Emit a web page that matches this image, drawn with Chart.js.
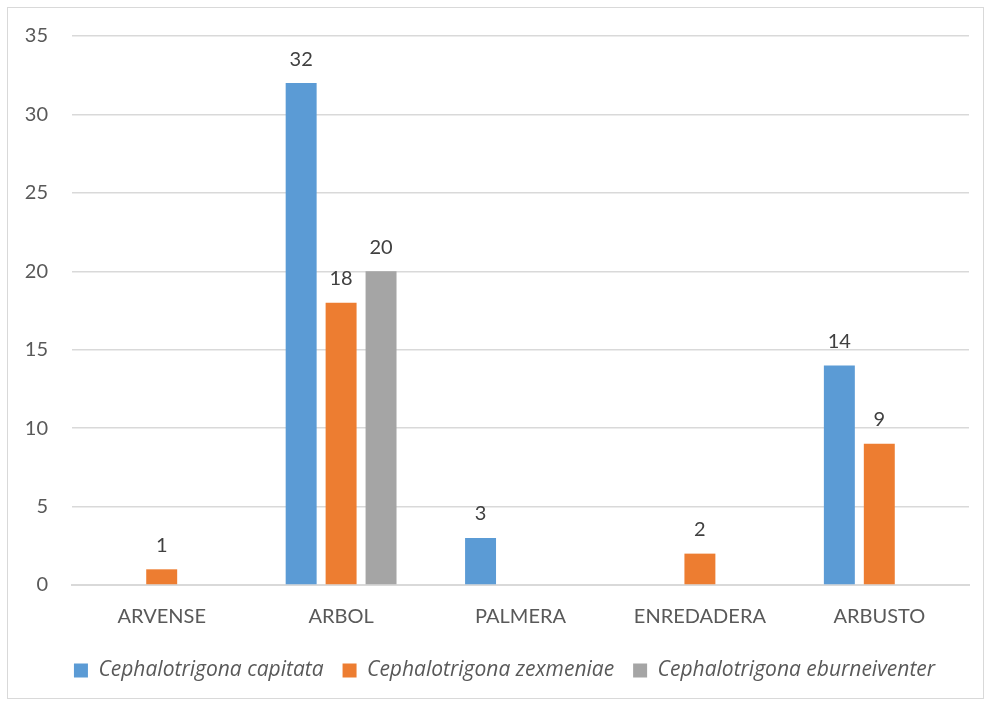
<!DOCTYPE html>
<html>
<head>
<meta charset="utf-8">
<script src="https://cdn.jsdelivr.net/npm/chart.js@4/dist/chart.umd.min.js"></script>
<style>
  html, body { margin: 0; padding: 0; background: #fff; }
  #frame {
    position: absolute; left: 7px; top: 7px;
    width: 977px; height: 692px;
    border: 1px solid #d9d9d9; box-sizing: border-box;
  }
  #frame canvas { display: block; }
</style>
</head>
<body>
<div id="frame"><canvas id="chart" width="975" height="690"></canvas></div>
<script>
// Categorías y conteos por especie
const categorias = ['ARVENSE', 'ARBOL', 'PALMERA', 'ENREDADERA', 'ARBUSTO'];
const capitata = [0, 32, 3, 0, 14];
const zexmeniae = [1, 18, 0, 2, 9];
const eburneiventer = [0, 20, 0, 0, 0];
const ticksY = [0, 5, 10, 15, 20, 25, 30, 35];

const fuente = 'Lato, "Open Sans", sans-serif';

// Etiquetas de valor encima de cada barra (solo valores distintos de cero)
const etiquetasValor = {
    id: 'etiquetasValor',
    afterDatasetsDraw(chart) {
        const ctx = chart.ctx;
        ctx.save();
        ctx.font = '20px ' + fuente;
        ctx.fillStyle = '#404040';
        ctx.textAlign = 'center';
        ctx.textBaseline = 'bottom';
        chart.data.datasets.forEach(function(ds, i) {
            const meta = chart.getDatasetMeta(i);
            meta.data.forEach(function(bar, j) {
                const v = ds.data[j];
                if (!v) return;
                ctx.fillText(String(v), bar.x, bar.y - 14);
            });
        });
        ctx.restore();
    }
};

// Desplaza un poco la leyenda hacia la derecha
const moverLeyenda = {
    id: 'moverLeyenda',
    afterLayout(chart) {
        const lg = chart.legend;
        if (!lg) return;
        lg.left += 16;
        lg.right += 16;
    }
};

new Chart(document.getElementById('chart'), {
    type: 'bar',
    data: {
        labels: categorias,
        datasets: [
            { label: 'Cephalotrigona capitata', data: capitata, backgroundColor: '#5B9BD5' },
            { label: 'Cephalotrigona zexmeniae', data: zexmeniae, backgroundColor: '#ED7D31' },
            { label: 'Cephalotrigona eburneiventer', data: eburneiventer, backgroundColor: '#A5A5A5' }
        ]
    },
    options: {
        responsive: false,
        animation: false,
        categoryPercentage: 0.668,
        barPercentage: 0.775,
        layout: { padding: { top: 28, right: 14, left: 0, bottom: 7 } },
        scales: {
            x: {
                grid: { display: false },
                border: { color: '#d9d9d9', width: 2 },
                ticks: { color: '#595959', font: { family: fuente, size: 20 }, padding: 12 }
            },
            y: {
                min: 0,
                max: 35,
                afterBuildTicks: function(axis) {
                    axis.ticks = ticksY.map(function(v) { return { value: v }; });
                },
                afterFit: function(axis) {
                    axis.width = 64;
                    axis.paddingTop = 0;
                    axis.paddingBottom = 0;
                },
                grid: { color: '#d9d9d9', lineWidth: 1.5, drawTicks: false },
                border: { display: false },
                ticks: { color: '#595959', font: { family: fuente, size: 20 }, padding: 24 }
            }
        },
        plugins: {
            legend: {
                position: 'bottom',
                labels: {
                    color: '#595959',
                    font: { family: '"Open Sans", sans-serif', size: 21, style: 'italic' },
                    boxWidth: 14,
                    boxHeight: 14,
                    padding: 19
                }
            },
            tooltip: { enabled: false }
        }
    },
    plugins: [etiquetasValor, moverLeyenda]
});
</script>
</body>
</html>
